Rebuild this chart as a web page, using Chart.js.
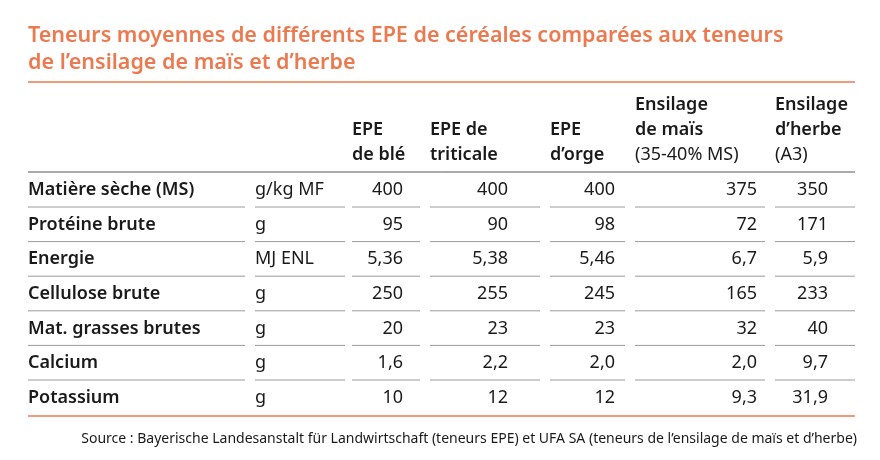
<!DOCTYPE html>
<html><head><meta charset="utf-8">
<script src="https://cdn.jsdelivr.net/npm/chart.js@4"></script>
<style>html,body{margin:0;padding:0;background:#fff}#wrap{width:880px;height:460px}</style>
</head><body><div id="wrap"><canvas id="c" width="880" height="460"></canvas></div>
<script>
const titleLines = ["Teneurs moyennes de différents EPE de céréales comparées aux teneurs", "de l’ensilage de maïs et d’herbe"];
const headers = [["EPE", "de blé"], ["EPE de", "triticale"], ["EPE", "d’orge"], ["Ensilage", "de maïs", "(35-40% MS)"], ["Ensilage", "d’herbe", "(A3)"]];
const rowLabels = ["Matière sèche (MS)", "Protéine brute", "Energie", "Cellulose brute", "Mat. grasses brutes", "Calcium", "Potassium"];
const units = ["g/kg MF", "g", "MJ ENL", "g", "g", "g", "g"];
const epeBle = ["400", "95", "5,36", "250", "20", "1,6", "10"];
const epeTriticale = ["400", "90", "5,38", "255", "23", "2,2", "12"];
const epeOrge = ["400", "98", "5,46", "245", "23", "2,0", "12"];
const ensMais = ["375", "72", "6,7", "165", "32", "2,0", "9,3"];
const ensHerbe = ["350", "171", "5,9", "233", "40", "9,7", "31,9"];
const source = "Source : Bayerische Landesanstalt für Landwirtschaft (teneurs EPE) et UFA SA (teneurs de l’ensilage de maïs et d’herbe)";

const orange = '#ec7a50';
const txt = '#1a1a1a';
const font = '"Noto Sans", "DejaVu Sans", sans-serif';
// column geometry: [left, right of line segment, right edge of numbers]
const cols = [[28, 245], [255, 345], [352, 420, 403], [430, 540, 508], [550, 625, 615], [635, 765, 757], [775, 855, 828]];
const valueCols = [epeBle, epeTriticale, epeOrge, ensMais, ensHerbe];

const tablePlugin = {
  id: 'tablePlugin',
  afterDraw(chart) {
    const ctx = chart.ctx;
    const xs = chart.scales.x, ys = chart.scales.y;
    const X = v => xs.getPixelForValue(v), Y = v => ys.getPixelForValue(v);
    ctx.save();
    ctx.textBaseline = 'middle';
    // title
    ctx.fillStyle = orange;
    ctx.font = '600 21.5px ' + font;
    titleLines.forEach((t, i) => ctx.fillText(t, X(28), Y(36 + i * 27)));
    ctx.strokeStyle = orange; ctx.lineWidth = 1.5;
    ctx.beginPath(); ctx.moveTo(X(28), Y(82)); ctx.lineTo(X(855), Y(82)); ctx.stroke();
    // headers
    ctx.fillStyle = txt;
    headers.forEach((h, c) => {
      const n = h.length;
      h.forEach((line, i) => {
        const last = n === 3 && i === 2;
        ctx.font = (last ? '400 ' : '600 ') + '18px ' + font;
        ctx.fillText(line, X(cols[c + 2][0]), Y(155 - (n - 1 - i) * 25));
      });
    });
    // header line
    ctx.strokeStyle = '#555'; ctx.lineWidth = 1;
    ctx.beginPath(); ctx.moveTo(X(28), Y(172)); ctx.lineTo(X(855), Y(172)); ctx.stroke();
    // rows
    const rowH = 34.6;
    rowLabels.forEach((lab, r) => {
      const cy = 190 + r * rowH;
      ctx.textAlign = 'left';
      ctx.font = '600 18px ' + font;
      ctx.fillText(lab, X(28), Y(cy));
      ctx.font = '400 18px ' + font;
      ctx.fillText(units[r], X(255), Y(cy));
      ctx.textAlign = 'right';
      valueCols.forEach((arr, c) => ctx.fillText(arr[r], X(cols[c + 2][2]), Y(cy)));
      if (r < rowLabels.length - 1) {
        ctx.strokeStyle = '#9a9a9a'; ctx.lineWidth = 1;
        cols.forEach(cc => {
          ctx.beginPath(); ctx.moveTo(X(cc[0]), Y(cy + 17)); ctx.lineTo(X(cc[1]), Y(cy + 17)); ctx.stroke();
        });
      }
    });
    ctx.strokeStyle = orange; ctx.lineWidth = 1.5;
    ctx.beginPath(); ctx.moveTo(X(28), Y(416)); ctx.lineTo(X(855), Y(416)); ctx.stroke();
    // source
    ctx.textAlign = 'right'; ctx.fillStyle = txt;
    ctx.font = '400 14px ' + font;
    ctx.fillText(source, X(857), Y(439));
    ctx.restore();
  }
};

new Chart(document.getElementById('c'), {
  type: 'scatter',
  data: { datasets: [{ data: [] }] },
  options: {
    responsive: false,
    animation: false,
    layout: { padding: 0 },
    scales: {
      x: { type: 'linear', min: 0, max: 880, display: false },
      y: { type: 'linear', min: 0, max: 460, reverse: true, display: false }
    },
    plugins: { legend: { display: false }, tooltip: { enabled: false } }
  },
  plugins: [tablePlugin]
});
</script>
</body></html>
